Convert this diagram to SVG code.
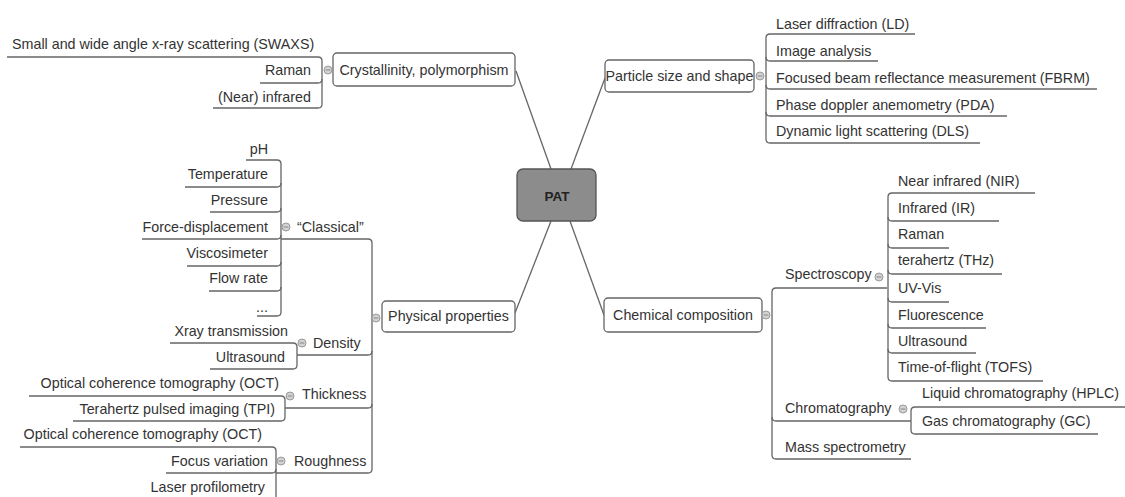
<svg xmlns="http://www.w3.org/2000/svg" width="1125" height="497" viewBox="0 0 1125 497">
<style>
text{font-family:"Liberation Sans",Arial,sans-serif;font-size:14.3px;fill:#333}
.e{text-anchor:end}
.m{text-anchor:middle}
.ln{fill:none;stroke:#666;stroke-width:1.3}
.box{fill:#fff;stroke:#666;stroke-width:1.3}
.tog{fill:#d2d2d2;stroke:#9a9a9a;stroke-width:1}
.tm{stroke:#888;stroke-width:1}
</style>
<defs>
<g id="toggle"><circle class="tog" r="4"/><line class="tm" x1="-2.3" y1="0" x2="2.3" y2="0"/></g>
</defs>
<rect width="1125" height="497" fill="#fff"/>
<g id="connectors">
<path class="ln" d="M551,169 L516,71"/>
<path class="ln" d="M571,169 L605,78"/>
<path class="ln" d="M551,221 L515,313"/>
<path class="ln" d="M570,221 L604,315"/>
<!-- crystallinity -->
<path class="ln" d="M7,57 H318 Q322,57 322,61 V104 Q322,108 318,108 H213"/>
<path class="ln" d="M322,79 Q322,83 318,83 H260"/>
<!-- particle -->
<path class="ln" d="M915,34 H770 Q766,34 766,38 V139 Q766,143 770,143 H980"/>
<path class="ln" d="M766,57 Q766,61 770,61 H878"/>
<path class="ln" d="M766,85 Q766,89 770,89 H1097"/>
<path class="ln" d="M766,112 Q766,116 770,116 H1007"/>
<!-- physical -->
<path class="ln" d="M281,239 H368 Q372,239 372,243 V469 Q372,473 368,473 H276"/>
<path class="ln" d="M372,351 Q372,355 368,355 H297"/>
<path class="ln" d="M372,404 Q372,408 368,408 H285"/>
<!-- classical -->
<path class="ln" d="M246,160 H277 Q281,160 281,164 V312 Q281,316 277,316 H257"/>
<path class="ln" d="M281,183 Q281,187 277,187 H185"/>
<path class="ln" d="M281,208 Q281,212 277,212 H210"/>
<path class="ln" d="M281,235 Q281,239 277,239 H142"/>
<path class="ln" d="M281,262 Q281,266 277,266 H187"/>
<path class="ln" d="M281,287 Q281,291 277,291 H209"/>
<!-- density -->
<path class="ln" d="M170,343 H293 Q297,343 297,347 V365 Q297,369 293,369 H210"/>
<!-- thickness -->
<path class="ln" d="M29,396 H281 Q285,396 285,400 V417 Q285,421 281,421 H73"/>
<!-- roughness -->
<path class="ln" d="M20,447 H272 Q276,447 276,451 V505"/>
<path class="ln" d="M276,469 Q276,473 272,473 H166"/>
<!-- chemical -->
<path class="ln" d="M887,288 H776 Q772,288 772,292 V455 Q772,459 776,459 H911"/>
<path class="ln" d="M772,417 Q772,421 776,421 H911"/>
<!-- spectroscopy -->
<path class="ln" d="M1035,193 H892 Q888,193 888,197 V377 Q888,381 892,381 H1043"/>
<path class="ln" d="M888,217 Q888,221 892,221 H999"/>
<path class="ln" d="M888,244 Q888,248 892,248 H949"/>
<path class="ln" d="M888,270 Q888,274 892,274 H1002"/>
<path class="ln" d="M888,298 Q888,302 892,302 H949"/>
<path class="ln" d="M888,324 Q888,328 892,328 H986"/>
<path class="ln" d="M888,349 Q888,353 892,353 H976"/>
<!-- chromatography -->
<path class="ln" d="M1125,407 H915 Q911,407 911,411 V430 Q911,434 915,434 H1098"/>
</g>
<g id="node-pat">
<rect x="517" y="169" width="79" height="52" rx="6" fill="#8c8c8c" stroke="#555" stroke-width="1.3"/>
<text x="557" y="201" class="m" style="font-weight:bold;fill:#222;font-size:13.5px">PAT</text>
</g>
<g id="node-crystallinity">
<rect class="box" x="333" y="53" width="182" height="33" rx="4"/>
<text x="424" y="75" class="m">Crystallinity, polymorphism</text>
<use href="#toggle" x="328" y="70"/>
</g>
<g id="node-swaxs"><text x="12" y="49">Small and wide angle x-ray scattering (SWAXS)</text></g>
<g id="node-raman1"><text x="311" y="75" class="e">Raman</text></g>
<g id="node-nearir"><text x="311" y="102" class="e">(Near) infrared</text></g>
<g id="node-particle">
<rect class="box" x="605" y="60" width="149" height="32" rx="4"/>
<text x="679.5" y="81" class="m">Particle size and shape</text>
<use href="#toggle" x="760" y="76"/>
</g>
<g id="node-ld"><text x="776" y="29">Laser diffraction (LD)</text></g>
<g id="node-image"><text x="776" y="56">Image analysis</text></g>
<g id="node-fbrm"><text x="776" y="83">Focused beam reflectance measurement (FBRM)</text></g>
<g id="node-pda"><text x="776" y="110">Phase doppler anemometry (PDA)</text></g>
<g id="node-dls"><text x="776" y="136">Dynamic light scattering (DLS)</text></g>
<g id="node-physical">
<rect class="box" x="382" y="301" width="133" height="31" rx="4"/>
<text x="448.5" y="321" class="m">Physical properties</text>
<use href="#toggle" x="376" y="318"/>
</g>
<g id="node-classical">
<text x="297" y="232">“Classical”</text>
<use href="#toggle" x="286" y="227"/>
</g>
<g id="node-ph"><text x="268" y="154" class="e">pH</text></g>
<g id="node-temp"><text x="268" y="179" class="e">Temperature</text></g>
<g id="node-pressure"><text x="268" y="205" class="e">Pressure</text></g>
<g id="node-force"><text x="268" y="232" class="e">Force-displacement</text></g>
<g id="node-visc"><text x="268" y="258" class="e">Viscosimeter</text></g>
<g id="node-flow"><text x="268" y="283" class="e">Flow rate</text></g>
<g id="node-dots"><text x="268" y="312" class="e">...</text></g>
<g id="node-density">
<text x="313" y="348">Density</text>
<use href="#toggle" x="302" y="343"/>
</g>
<g id="node-xray"><text x="288" y="336" class="e">Xray transmission</text></g>
<g id="node-ultra1"><text x="285" y="362" class="e">Ultrasound</text></g>
<g id="node-thickness">
<text x="302" y="399">Thickness</text>
<use href="#toggle" x="290" y="396"/>
</g>
<g id="node-oct1"><text x="279" y="388" class="e">Optical coherence tomography (OCT)</text></g>
<g id="node-tpi"><text x="275" y="414" class="e">Terahertz pulsed imaging (TPI)</text></g>
<g id="node-roughness">
<text x="294" y="466">Roughness</text>
<use href="#toggle" x="281" y="461"/>
</g>
<g id="node-oct2"><text x="262" y="439" class="e">Optical coherence tomography (OCT)</text></g>
<g id="node-focus"><text x="268" y="466" class="e">Focus variation</text></g>
<g id="node-laserprof"><text x="265" y="492" class="e">Laser profilometry</text></g>
<g id="node-chemical">
<rect class="box" x="604" y="298" width="158" height="34" rx="4"/>
<text x="683" y="320" class="m">Chemical composition</text>
<use href="#toggle" x="766" y="315"/>
</g>
<g id="node-spectroscopy">
<text x="785" y="279">Spectroscopy</text>
<use href="#toggle" x="879" y="277"/>
</g>
<g id="node-nir"><text x="898" y="186">Near infrared (NIR)</text></g>
<g id="node-ir"><text x="898" y="213">Infrared (IR)</text></g>
<g id="node-raman2"><text x="898" y="239">Raman</text></g>
<g id="node-thz"><text x="898" y="265">terahertz (THz)</text></g>
<g id="node-uvvis"><text x="898" y="293">UV-Vis</text></g>
<g id="node-fluor"><text x="898" y="320">Fluorescence</text></g>
<g id="node-ultra2"><text x="898" y="346">Ultrasound</text></g>
<g id="node-tofs"><text x="898" y="372">Time-of-flight (TOFS)</text></g>
<g id="node-chromatography">
<text x="785" y="413">Chromatography</text>
<use href="#toggle" x="903" y="409"/>
</g>
<g id="node-hplc"><text x="922" y="398">Liquid chromatography (HPLC)</text></g>
<g id="node-gc"><text x="922" y="426">Gas chromatography (GC)</text></g>
<g id="node-mass"><text x="785" y="452">Mass spectrometry</text></g>
</svg>
